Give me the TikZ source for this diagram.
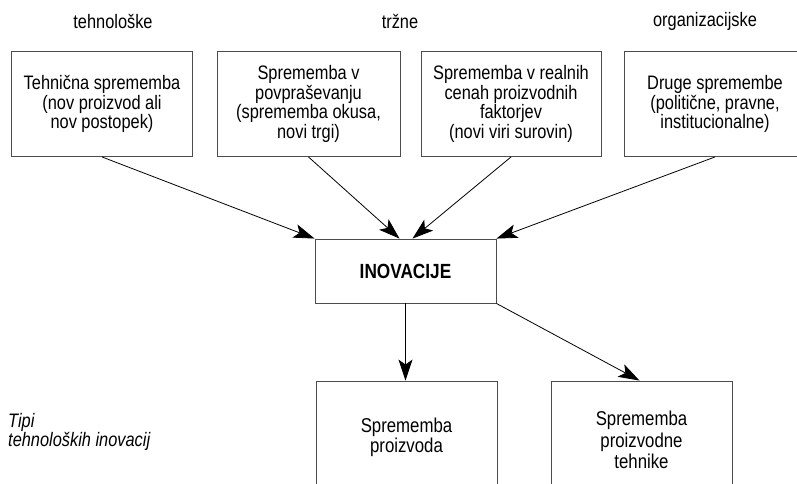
\documentclass[tikz,border=0pt]{standalone}
\usepackage{fontspec}
\setmainfont{Liberation Sans}[FakeStretch=0.84]
\usetikzlibrary{arrows.meta,calc}
\tikzset{
  box/.style={draw=black!70, line width=0.9pt, align=center, inner sep=0pt,
    font=\fontsize{19.5}{19.5}\selectfont},
  topbox/.style={box, minimum width=181pt, minimum height=105pt},
  cat/.style={font=\fontsize{19.5}{19.5}\selectfont, inner sep=0pt},
  arr/.style={draw=black, line width=0.8pt, -{Stealth[length=21pt,width=14pt,inset=5pt]}},
}
\begin{document}
\begin{tikzpicture}[x=1pt,y=-1pt]
\useasboundingbox (0,0) rectangle (797,483);
\node[cat] (c1) at (113,21) {tehnološke};
\node[cat] (c2) at (400,21) {tržne};
\node[cat] (c3) at (705,21) {organizacijske};

\node[topbox] (b1) at (102,104) {Tehnična sprememba\\(nov proizvod ali\\nov postopek)};
\node[topbox, minimum width=183pt] (b2) at (308.5,104) {Sprememba v\\povpraševanju\\(sprememba okusa,\\novi trgi)};
\node[topbox, minimum width=180pt] (b3) at (511,104) {Sprememba v realnih\\cenah proizvodnih\\faktorjev\\(novi viri surovin)};
\node[topbox, minimum width=182pt] (b4) at (715,104) {Druge spremembe\\(politične, pravne,\\institucionalne)};

\node[box, minimum width=181pt, minimum height=64pt, font=\fontsize{20.5}{20}\selectfont\bfseries] (inov) at (405.5,271) {INOVACIJE};

\node[box, minimum width=181pt, minimum height=112pt, font=\fontsize{20}{20}\selectfont] (p1) at (406.5,437) {Sprememba\\proizvoda};
\node[box, minimum width=181pt, minimum height=118pt, font=\fontsize{20}{21.5}\selectfont] (p2) at (641.5,440) {Sprememba\\proizvodne\\tehnike};

\node[font=\fontsize{19.5}{19}\selectfont\itshape, align=left, anchor=west, inner sep=0pt] (tip) at (8,432) {Tipi\\tehnoloških inovacij};

\draw[arr] (b1.south) -- (inov.north west);
\draw[arr] (b2.south) -- ($(inov.north)+(-6,0)$);
\draw[arr] (b3.south) -- ($(inov.north)+(7,0)$);
\draw[arr] (b4.south) -- (inov.north east);
\draw[arr] (inov.south) -- (inov.south |- p1.north);
\draw[arr] (inov.south east) -- ($(p2.north)+(-2,0)$);
\end{tikzpicture}
\end{document}
